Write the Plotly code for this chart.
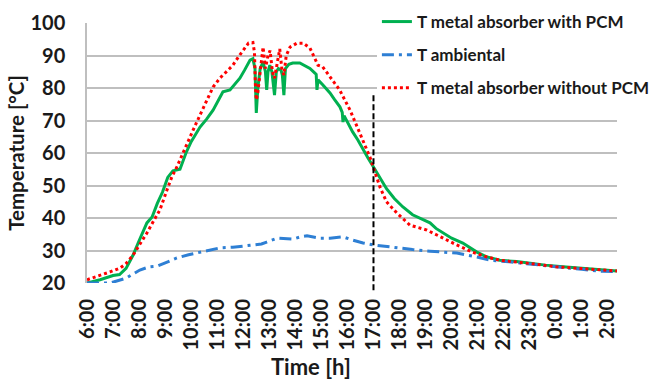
import plotly.graph_objects as go

# ---- data (hours since midnight of day 1; values past 24 are next day) ----
hours_pcm = [6.0, 6.5, 7.0, 7.25, 7.5, 7.77, 8.0, 8.3, 8.5, 8.7, 8.9, 9.1, 9.3, 9.57, 9.8,
             10.0, 10.34, 10.6, 10.84, 11.05, 11.22, 11.49, 11.7, 11.87, 12.05, 12.26, 12.37,
             12.45, 12.5, 12.56, 12.65, 12.76, 12.85, 12.9, 12.95, 13.02, 13.1, 13.2, 13.27,
             13.35, 13.45, 13.5, 13.56, 13.62, 13.75, 13.9, 14.17, 14.4, 14.56, 14.75, 14.8,
             14.83, 14.87, 15.05, 15.33, 15.5, 15.71, 15.8, 15.83, 15.87, 16.0, 16.2, 16.4,
             16.6, 16.8, 17.0, 17.25, 17.5, 17.8, 18.13, 18.5, 18.9, 19.17, 19.4, 19.67, 20.0,
             20.43, 20.7, 20.97, 21.36, 21.85, 22.5, 23.0, 23.6, 24.27, 24.9, 25.58, 26.0, 26.35]
temp_pcm = [20.0, 21.0, 22.3, 22.6, 24.5, 28.6, 33.0, 38.5, 40.3, 44.5, 48.0, 52.5, 54.5, 55.0, 60.0,
            63.5, 68.0, 70.5, 73.2, 76.5, 78.8, 79.4, 81.5, 83.0, 85.5, 88.6, 89.0,
            86.0, 72.3, 80.0, 86.0, 88.0, 85.0, 79.4, 85.0, 87.0, 85.0, 77.8, 85.0,
            86.0, 85.5, 84.0, 77.8, 86.0, 87.3, 87.7, 87.7, 86.8, 86.0, 84.6, 84.2,
            79.4, 82.5, 81.0, 78.5, 76.5, 74.2, 72.5, 69.5, 71.5, 69.5, 66.5, 64.0,
            61.0, 58.3, 55.7, 52.3, 49.0, 46.0, 43.4, 41.0, 39.4, 38.5, 36.8, 35.4, 33.8,
            32.3, 30.8, 29.5, 28.0, 27.0, 26.6, 26.0, 25.5, 25.0, 24.6, 24.3, 24.0, 23.7]

hours_amb = [6.0, 6.9, 7.5, 8.03, 8.4, 8.7, 9.1, 9.45, 9.9, 10.34, 10.7, 11.1, 11.6, 12.0, 12.37,
             12.7, 12.9, 13.3, 13.9, 14.2, 14.45, 14.94, 15.33, 15.83, 16.2, 16.6, 17.0, 17.5,
             17.9, 18.5, 19.17, 20.2, 20.97, 21.5, 22.2, 23.0, 24.0, 25.0, 25.8, 26.35]
temp_amb = [20.0, 20.0, 21.5, 24.0, 25.0, 25.2, 26.5, 27.7, 28.7, 29.5, 30.2, 30.8, 31.0, 31.3, 31.7,
            32.0, 32.6, 33.8, 33.5, 34.2, 34.5, 33.8, 33.8, 34.2, 33.2, 32.3, 31.7, 31.2,
            30.8, 30.3, 29.8, 29.2, 28.0, 27.0, 26.5, 25.8, 25.0, 24.2, 23.6, 23.5]

hours_nopcm = [6.0, 6.5, 6.88, 7.27, 7.5, 7.77, 8.0, 8.3, 8.55, 8.8, 9.07, 9.25, 9.45, 9.65, 9.84,
               10.1, 10.34, 10.6, 10.84, 11.1, 11.37, 11.6, 11.87, 12.05, 12.2, 12.37, 12.43, 12.47,
               12.5, 12.55, 12.6, 12.68, 12.76, 12.85, 12.95, 13.03, 13.12, 13.2, 13.3, 13.4, 13.48,
               13.56, 13.65, 13.8, 14.06, 14.3, 14.56, 14.75, 14.87, 15.05, 15.33, 15.5, 15.7, 16.1,
               16.48, 16.86, 17.25, 17.5, 17.9, 18.4, 19.05, 19.55, 20.2, 20.8, 21.36, 21.85, 22.5,
               23.0, 24.0, 25.0, 25.58, 26.35]
temp_nopcm = [21.0, 22.3, 23.4, 24.6, 26.0, 28.6, 31.5, 35.4, 39.0, 42.5, 48.6, 52.5, 55.7, 59.5, 63.0,
              67.5, 71.7, 76.0, 80.3, 83.0, 85.0, 87.0, 90.2, 92.0, 93.8, 94.0, 91.0, 80.0,
              76.3, 78.0, 81.5, 88.0, 92.6, 86.0, 90.0, 91.5, 85.0, 83.0, 88.0, 92.0, 86.0,
              84.0, 90.0, 92.6, 93.8, 93.8, 92.3, 89.0, 87.0, 86.5, 83.4, 81.5, 79.4, 73.2,
              66.0, 58.8, 49.5, 45.0, 41.5, 37.8, 36.3, 34.2, 31.7, 29.5, 28.0, 27.0, 26.5,
              26.0, 25.0, 24.4, 24.0, 23.7]

tick_hours = list(range(6, 27))
tick_labels = ["6:00", "7:00", "8:00", "9:00", "10:00", "11:00", "12:00", "13:00", "14:00",
               "15:00", "16:00", "17:00", "18:00", "19:00", "20:00", "21:00", "22:00", "23:00",
               "0:00", "1:00", "2:00"]

marker_hour = 17.0      # vertical dashed marker
marker_top = 78.5
marker_bottom = 17.8

x_range = [6.0, 26.35]
y_range = [20, 100]

FONT = "Lato"
TXT = "#1a1a1a"

fig = go.Figure()
fig.add_trace(go.Scatter(x=hours_pcm, y=temp_pcm, mode="lines", name="T metal absorber with PCM",
                         line=dict(color="#00b050", width=3), legendgroup="a"))
fig.add_trace(go.Scatter(x=hours_amb, y=temp_amb, mode="lines", name="T ambiental",
                         line=dict(color="#2e7fd4", width=3, dash="12px,5px,3px,5px"), legendgroup="b"))
fig.add_trace(go.Scatter(x=hours_nopcm, y=temp_nopcm, mode="lines", name="T metal absorber without PCM",
                         line=dict(color="#ff0000", width=3, dash="dot"), legendgroup="c"))

def xp(v):
    return (v - x_range[0]) / (x_range[1] - x_range[0])

def yp(v):
    return (v - y_range[0]) / (y_range[1] - y_range[0])

fig.add_shape(type="line", xref="paper", yref="paper",
              x0=xp(marker_hour), x1=xp(marker_hour), y0=yp(marker_bottom), y1=yp(marker_top),
              line=dict(color="black", width=2, dash="6px,3px"))

fig.add_annotation(text="Time [h]", xref="paper", yref="paper", x=0.343, y=-0.323,
                   xanchor="left", yanchor="middle", showarrow=False,
                   font=dict(family=FONT, size=22, color=TXT, weight="bold"))

fig.update_layout(
    width=659, height=379,
    margin=dict(l=87, r=42, t=23, b=96, autoexpand=False),
    paper_bgcolor="white", plot_bgcolor="white",
    font=dict(family=FONT, size=17, color=TXT, weight="bold"),
    showlegend=True,
    legend=dict(x=0.547, y=1.073, xanchor="left", yanchor="top", bgcolor="white",
                traceorder="grouped", tracegroupgap=8, itemwidth=30,
                font=dict(family=FONT, size=17, color=TXT, weight="bold")),
    xaxis=dict(range=x_range, tickmode="array", tickvals=tick_hours, ticktext=tick_labels,
               tickangle=-90, showgrid=False, zeroline=False, showline=False, ticks="",
               ticklabelstandoff=11, tickfont=dict(family=FONT, size=20, color=TXT, weight="bold")),
    yaxis=dict(range=y_range, dtick=10, showgrid=True, gridcolor="#bfbfbf", gridwidth=1.5,
               zeroline=False, showline=True, linecolor="#bfbfbf", linewidth=1.5, ticks="",
               ticklabelstandoff=16,
               tickfont=dict(family=FONT, size=20, color=TXT, weight="bold"),
               title=dict(text="Temperature [°C]", standoff=0,
                          font=dict(family=FONT, size=20.5, color=TXT, weight="bold"))),
)

fig.write_html("out.html")
